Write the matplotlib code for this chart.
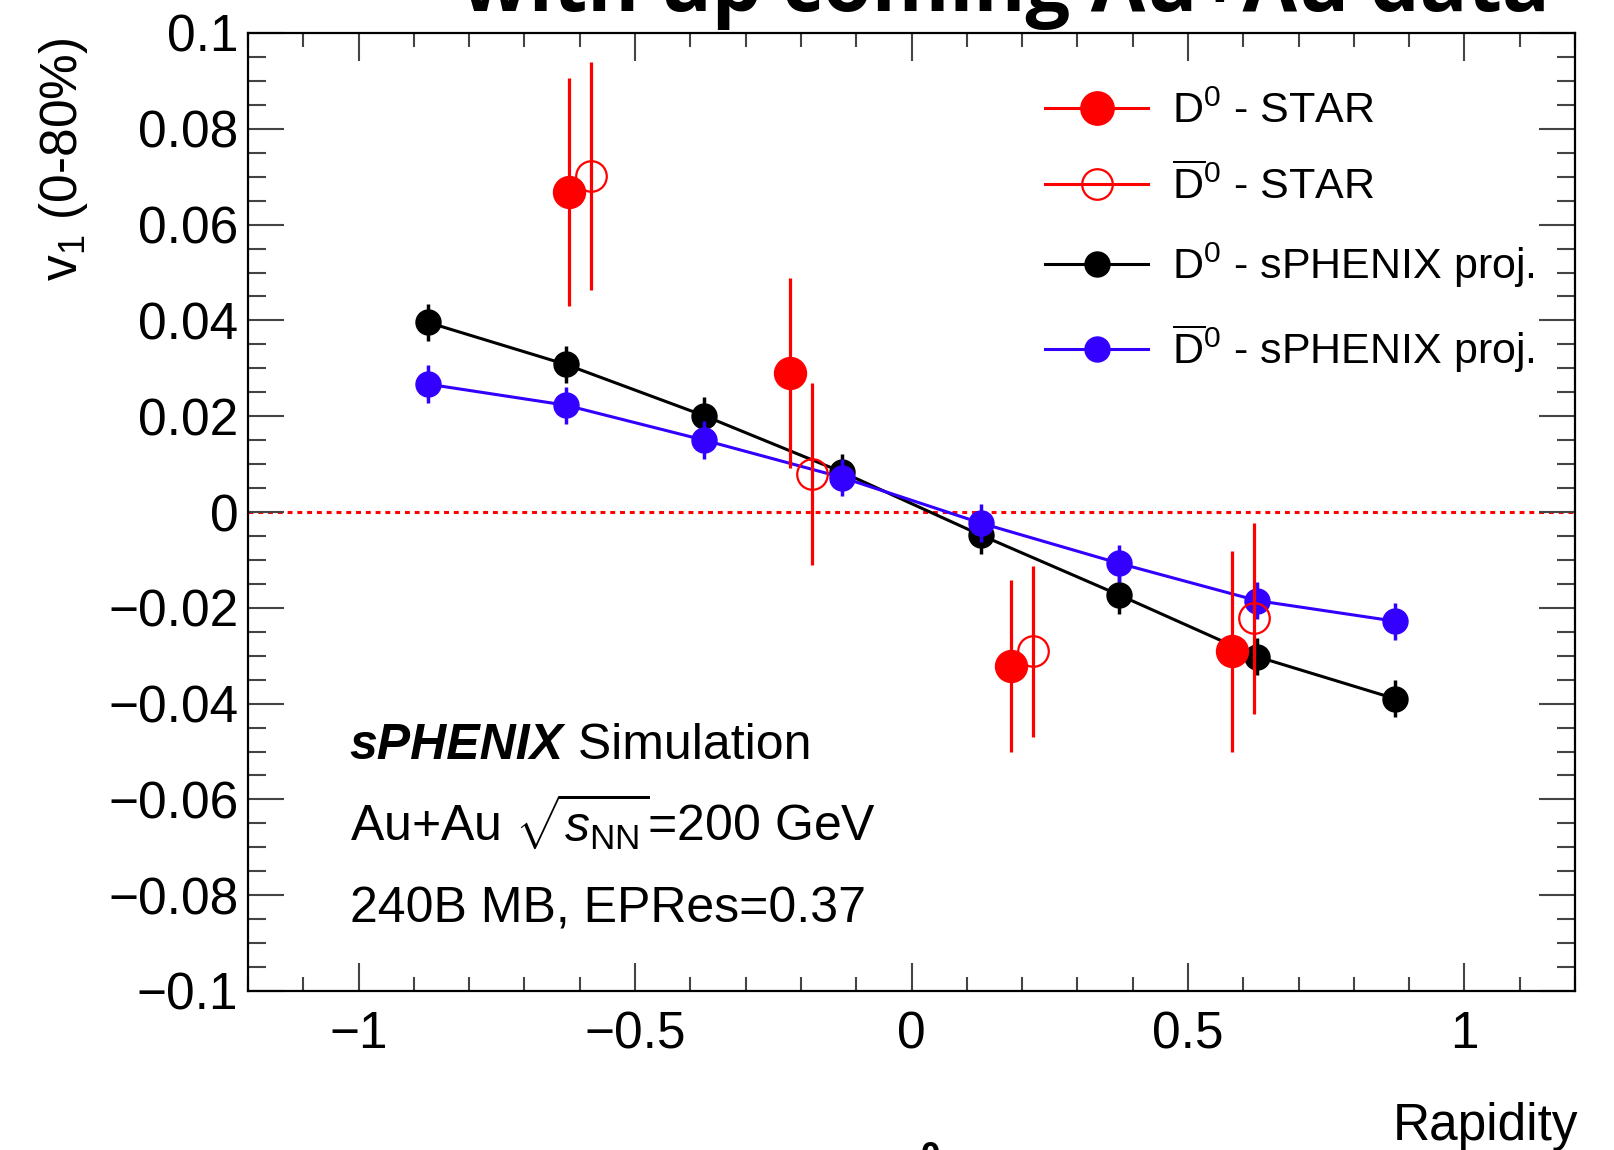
import matplotlib
matplotlib.use("Agg")
import matplotlib.pyplot as plt
from matplotlib.lines import Line2D

# sPHENIX projections (8 rapidity bins)
rap_proj = [-0.875, -0.625, -0.375, -0.125, 0.125, 0.375, 0.625, 0.875]
v1_d0_proj = [0.0396, 0.0308, 0.0201, 0.0083, -0.0048, -0.0173, -0.0302, -0.0390]
v1_d0bar_proj = [0.0267, 0.0223, 0.0150, 0.0072, -0.0023, -0.0107, -0.0185, -0.0228]
err_d0_proj = [0.0039, 0.0039, 0.0039, 0.0039, 0.0039, 0.0039, 0.0039, 0.0039]
err_d0bar_proj = [0.0039, 0.0039, 0.0039, 0.0039, 0.0039, 0.0039, 0.0039, 0.0039]

# STAR measurements
rap_d0_star = [-0.62, -0.22, 0.18, 0.58]
v1_d0_star = [0.0669, 0.0290, -0.0322, -0.0291]
err_d0_star = [0.0238, 0.0199, 0.0180, 0.0209]
rap_d0bar_star = [-0.58, -0.18, 0.22, 0.62]
v1_d0bar_star = [0.0702, 0.0079, -0.0291, -0.0222]
err_d0bar_star = [0.0238, 0.0190, 0.0179, 0.0199]

legend_labels = [r"D$^0$ - STAR", r"$\overline{\mathrm{D}}^0$ - STAR",
                 r"D$^0$ - sPHENIX proj.", r"$\overline{\mathrm{D}}^0$ - sPHENIX proj."]
x_ticks = [-1, -0.5, 0, 0.5, 1]
x_tick_labels = ["\u22121", "\u22120.5", "0", "0.5", "1"]
y_ticks = [0.1, 0.08, 0.06, 0.04, 0.02, 0, -0.02, -0.04, -0.06, -0.08, -0.1]
y_tick_labels = ["0.1", "0.08", "0.06", "0.04", "0.02", "0",
                 "\u22120.02", "\u22120.04", "\u22120.06", "\u22120.08", "\u22120.1"]

RED = "#ff0000"
BLUE = "#3300ff"
BLACK = "#000000"

plt.rcParams["font.family"] = ["Liberation Sans", "DejaVu Sans"]
plt.rcParams["mathtext.fontset"] = "custom"
plt.rcParams["mathtext.rm"] = "Liberation Sans"
plt.rcParams["mathtext.it"] = "Liberation Sans:italic"
plt.rcParams["mathtext.bf"] = "Liberation Sans:bold"

W, H = 1614, 1150
fig = plt.figure(figsize=(W / 100, H / 100), dpi=100)
ax = fig.add_axes([248 / W, 1 - 991 / H, (1575 - 248) / W, (991 - 33) / H])

ax.set_xlim(-1.2, 1.2)
ax.set_ylim(-0.1, 0.1)

# zero line
ax.axhline(0, color=RED, lw=2.2, ls=(0, (1.6, 1.6)), zorder=1)

# projections: line + markers with small error bars
ax.plot(rap_proj, v1_d0_proj, color=BLACK, lw=2.2, zorder=3)
ax.errorbar(rap_proj, v1_d0_proj, yerr=err_d0_proj, fmt="o", color=BLACK,
            ms=18, elinewidth=2.5, capsize=0, zorder=3)
ax.plot(rap_proj, v1_d0bar_proj, color=BLUE, lw=2.2, zorder=4)
ax.errorbar(rap_proj, v1_d0bar_proj, yerr=err_d0bar_proj, fmt="o", color=BLUE,
            ms=18, elinewidth=2.5, capsize=0, zorder=4)

# STAR data
ax.errorbar(rap_d0_star, v1_d0_star, yerr=err_d0_star, fmt="o", color=RED,
            ms=23, elinewidth=2.3, capsize=0, zorder=5)
ax.errorbar(rap_d0bar_star, v1_d0bar_star, yerr=err_d0bar_star, fmt="o", color=RED,
            mfc="none", mec=RED, mew=1.6, ms=22, elinewidth=2.3, capsize=0, zorder=5)

# ROOT-like axes
for s in ax.spines.values():
    s.set_linewidth(1.6)
ax.set_xticks(x_ticks)
ax.set_xticklabels(x_tick_labels, fontsize=37)
ax.set_xticks([v / 10 for v in range(-12, 13)], minor=True)
ax.set_yticks(y_ticks)
ax.set_yticklabels(y_tick_labels, fontsize=37)
ax.set_yticks([v / 1000 for v in range(-100, 101, 5)], minor=True)
ax.tick_params(which="both", direction="in", top=True, right=True,
               color="#444444", width=1.5)
ax.tick_params(axis="x", which="major", length=20, pad=14)
ax.tick_params(axis="x", which="minor", length=10)
ax.tick_params(axis="y", which="major", length=26, pad=7)
ax.tick_params(axis="y", which="minor", length=13)

# legend
handles = [
    Line2D([0], [0], color=RED, lw=2.2, marker="o", ms=24),
    Line2D([0], [0], color=RED, lw=2.2, marker="o", ms=22, mfc="none", mew=1.6),
    Line2D([0], [0], color=BLACK, lw=2.2, marker="o", ms=18),
    Line2D([0], [0], color=BLUE, lw=2.2, marker="o", ms=18),
]
ax.legend(handles, legend_labels, loc="upper left", frameon=False, fontsize=31,
          bbox_to_anchor=(1045 / W, 1 - 92 / H), bbox_transform=fig.transFigure,
          borderpad=0, borderaxespad=0, handlelength=2.4, handletextpad=0.55,
          labelspacing=0.75)

# annotations
t1 = ax.text(0.0766, 0.2417, "sPHENIX", transform=ax.transAxes, fontsize=36,
             fontweight="bold", fontstyle="italic", va="baseline", ha="left")
ax.annotate(" Simulation", xy=(1, 0), xycoords=t1, fontsize=36,
            va="bottom", ha="left")
ax.text(0.0766, 0.1557, r"Au+Au $\sqrt{s_{\mathrm{NN}}}$=200 GeV",
        transform=ax.transAxes, fontsize=36, va="baseline", ha="left")
ax.text(0.0766, 0.072, "240B MB, EPRes=0.37", transform=ax.transAxes,
        fontsize=36, va="baseline", ha="left")

# axis titles (ROOT style placement)
fig.text(64 / W, 1 - 38 / H, r"v$_1$ (0-80%)", rotation=90, fontsize=37,
         ha="center", va="top")
fig.text(1578 / W, 1 - 1140 / H, "Rapidity", fontsize=37, ha="right", va="baseline")

# slide title, cut off at the top
fig.text(461 / W, 1 - 10.5 / H, "with up coming Au+Au data",
         family=["Open Sans", "DejaVu Sans"], fontweight="bold", fontsize=57,
         ha="left", va="baseline")
fig.text(930 / W, 1 - 1140 / H, "0", family=["Open Sans", "DejaVu Sans"],
         fontweight="bold", fontsize=24, ha="center", va="top")

fig.savefig("out.png", dpi=100)
